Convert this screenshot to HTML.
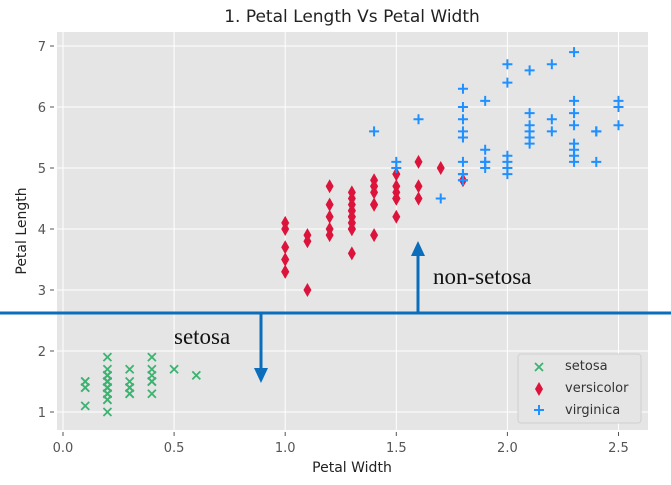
<!DOCTYPE html>
<html><head><meta charset="utf-8"><style>
body{margin:0;background:#fff}
svg text{font-family:"DejaVu Sans","Liberation Sans",sans-serif}
</style></head><body>
<svg id="c" width="671" height="480"></svg>
<script>
const setosaW=[.2,.2,.2,.2,.2,.4,.3,.2,.2,.1,.2,.2,.1,.1,.2,.4,.4,.3,.3,.3,.2,.4,.2,.5,.2,.2,.4,.2,.2,.2,.2,.4,.1,.2,.2,.2,.2,.1,.2,.2,.3,.3,.2,.6,.4,.3,.2,.2,.2,.2];
const setosaL=[1.4,1.4,1.3,1.5,1.4,1.7,1.4,1.5,1.4,1.5,1.5,1.6,1.4,1.1,1.2,1.5,1.3,1.4,1.7,1.5,1.7,1.5,1.0,1.7,1.9,1.6,1.6,1.5,1.4,1.6,1.6,1.5,1.5,1.4,1.5,1.2,1.3,1.4,1.3,1.5,1.3,1.3,1.3,1.6,1.9,1.4,1.6,1.4,1.5,1.4];
const versiW=[1.4,1.5,1.5,1.3,1.5,1.3,1.6,1.0,1.3,1.4,1.0,1.5,1.0,1.4,1.3,1.4,1.5,1.0,1.5,1.1,1.8,1.3,1.5,1.2,1.3,1.4,1.4,1.7,1.5,1.0,1.1,1.0,1.2,1.6,1.5,1.6,1.5,1.3,1.3,1.3,1.2,1.4,1.2,1.0,1.3,1.2,1.3,1.3,1.1,1.3];
const versiL=[4.7,4.5,4.9,4.0,4.6,4.5,4.7,3.3,4.6,3.9,3.5,4.2,4.0,4.7,3.6,4.4,4.5,4.1,4.5,3.9,4.8,4.0,4.9,4.7,4.3,4.4,4.8,5.0,4.5,3.5,3.8,3.7,3.9,5.1,4.5,4.5,4.7,4.4,4.1,4.0,4.4,4.6,4.0,3.3,4.2,4.2,4.2,4.3,3.0,4.1];
const virgW=[2.5,1.9,2.1,1.8,2.2,2.1,1.7,1.8,1.8,2.5,2.0,1.9,2.1,2.0,2.4,2.3,1.8,2.2,2.3,1.5,2.3,2.0,2.0,1.8,2.1,1.8,1.8,1.8,2.1,1.6,1.9,2.0,2.2,1.5,1.4,2.3,2.4,1.8,1.8,2.1,2.4,2.3,1.9,2.3,2.5,2.3,1.9,2.0,2.3,1.8];
const virgL=[6.0,5.1,5.9,5.6,5.8,6.6,4.5,6.3,5.8,6.1,5.1,5.3,5.5,5.0,5.1,5.3,5.5,6.7,6.9,5.0,5.7,4.9,6.7,4.9,5.7,6.0,4.8,4.9,5.6,5.8,6.1,6.4,5.6,5.1,5.6,6.1,5.6,5.5,4.8,5.4,5.6,5.1,5.1,5.9,5.7,5.2,5.0,5.2,5.4,5.1];
const xTicks=[0.0,0.5,1.0,1.5,2.0,2.5];
const yTicks=[1,2,3,4,5,6,7];

const NS='http://www.w3.org/2000/svg';
const svg=document.getElementById('c');
const X=v=>63+v*222.2, Y=v=>412-(v-1)*61;
function mk(t,a,p){const e=document.createElementNS(NS,t);for(const k in a)e.setAttribute(k,a[k]);(p||svg).appendChild(e);return e;}
const bg=mk('rect',{x:57,y:32,width:591,height:398,fill:'#e5e5e5'});


xTicks.forEach(t=>{
 const g=mk('line',{x1:X(t),x2:X(t),y1:32,y2:430,stroke:'#fff','stroke-width':1});
 
 
 mk('line',{x1:X(t),x2:X(t),y1:432,y2:436,stroke:'#555'});
 const l=mk('text',{x:X(t),y:452,'text-anchor':'middle','font-size':13,fill:'#555'});l.textContent=t.toFixed(1);
 
 
});
yTicks.forEach(t=>{
 const g=mk('line',{x1:57,x2:648,y1:Y(t),y2:Y(t),stroke:'#fff','stroke-width':1});
 
 
 mk('line',{x1:50,x2:54,y1:Y(t),y2:Y(t),stroke:'#555'});
 const l=mk('text',{x:46,y:Y(t)+5,'text-anchor':'end','font-size':13,fill:'#555'});l.textContent=t;
 
 
});
function xm(x,y,p){const g=mk('path',{d:`M${x-4},${y-4}L${x+4},${y+4}M${x-4},${y+4}L${x+4},${y-4}`,stroke:'#3cb371','stroke-width':1.8,fill:'none'},p);}
function dm(x,y,p){const g=mk('path',{d:`M${x},${y-7}L${x+4},${y}L${x},${y+7}L${x-4},${y}Z`,fill:'#dc143c'},p);}
function pm(x,y,p){const g=mk('path',{d:`M${x-5},${y}L${x+5},${y}M${x},${y-5}L${x},${y+5}`,stroke:'#1e90ff','stroke-width':2,fill:'none'},p);}
setosaW.forEach((w,i)=>xm(X(w),Y(setosaL[i])));
versiW.forEach((w,i)=>dm(X(w),Y(versiL[i])));
virgW.forEach((w,i)=>pm(X(w),Y(virgL[i])));

// legend
const lg=mk('rect',{x:518,y:354,width:123,height:69,rx:3,fill:'#e5e5e5',stroke:'#d0d0d0'});


xm(539,367);dm(539,389);pm(539,410);
[['setosa',370],['versicolor',392],['virginica',414]].forEach(([s,y])=>{const t=mk('text',{x:565,y:y,'font-size':13,fill:'#333'});t.textContent=s;});

// titles
const tt=mk('text',{x:352,y:22,'text-anchor':'middle','font-size':17,fill:'#222'});tt.textContent='1. Petal Length Vs Petal Width';

const xt=mk('text',{x:352,y:472,'text-anchor':'middle','font-size':14,fill:'#222'});xt.textContent='Petal Width';

const yt=mk('text',{x:0,y:0,'text-anchor':'middle','font-size':14,fill:'#222',transform:'translate(26,231) rotate(-90)'});yt.textContent='Petal Length';


// annotations
const sep=mk('line',{x1:0,x2:671,y1:313,y2:313,stroke:'#0a6ebd','stroke-width':3});

const a1=mk('path',{d:'M261,313L261,370',stroke:'#0a6ebd','stroke-width':3,fill:'none'});

mk('path',{d:'M254,368L268,368L261,383Z',fill:'#0a6ebd'});
const a2=mk('path',{d:'M418,313L418,254',stroke:'#0a6ebd','stroke-width':3,fill:'none'});

mk('path',{d:'M411,256L425,256L418,241Z',fill:'#0a6ebd'});
const s1=mk('text',{x:174,y:344,'font-size':23,fill:'#111',style:'font-family:"Liberation Serif",serif'});s1.textContent='setosa';

const s2=mk('text',{x:433,y:284,'font-size':23,fill:'#111',style:'font-family:"Liberation Serif",serif'});s2.textContent='non-setosa';

</script>
</body></html>
